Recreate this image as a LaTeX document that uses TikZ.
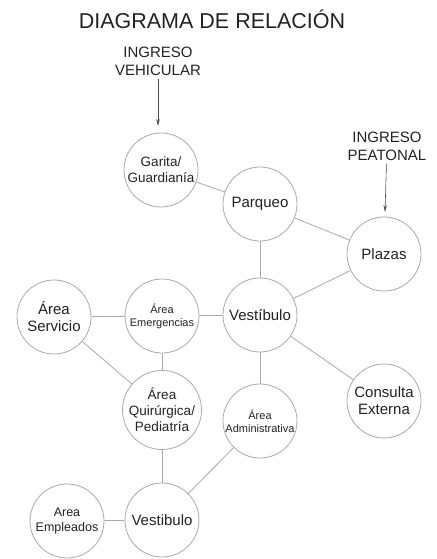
\documentclass[tikz,border=0pt]{standalone}
\usepackage{fontspec}
\setmainfont{Liberation Sans}
\usetikzlibrary{arrows.meta}
\definecolor{ringgray}{HTML}{A9A9A9}
\definecolor{inkgray}{HTML}{222222}

\begin{document}
\begin{tikzpicture}[x=1pt, y=-1pt,
    space/.style={circle, draw=ringgray, line width=0.8pt, minimum size=74pt,
        inner sep=0pt, align=center, text=inkgray, font=\fontsize{15}{17}\selectfont},
    smalltext/.style={font=\fontsize{11}{13}\selectfont},
    midtext/.style={font=\fontsize{13.5}{16}\selectfont},
    entry/.style={align=center, text=inkgray, font=\fontsize{15}{18}\selectfont},
    link/.style={draw=ringgray, line width=0.8pt},
    flow/.style={draw=inkgray!80, line width=0.6pt, -{Stealth[length=7pt, width=3.5pt]}}]
    \useasboundingbox (0,0) rectangle (436,559);

    \node[text=inkgray, font=\fontsize{21.5}{24}\selectfont] at (212,19) (title) {DIAGRAMA DE RELACIÓN};

    \node[entry] at (158,61)   (vehicular)  {INGRESO\\VEHICULAR};
    \node[entry] at (387,146)  (peatonal)   {INGRESO\\PEATONAL};
    \coordinate (vehicular-end) at (158,126);
    \coordinate (peatonal-end)  at (385,212);

    \node[space, midtext] at (161,170)  (garita)   {Garita/\\Guardianía};
    \node[space]          at (260,204)  (parqueo)  {Parqueo};
    \node[space]          at (384,254)  (plazas)   {Plazas};
    \node[space]          at (260,315)  (vest)     {Vestíbulo};
    \node[space, smalltext] at (162,316) (emerg)   {Área\\Emergencias};
    \node[space]          at (54,317)   (servicio) {Área\\Servicio};
    \node[space, midtext] at (162,410)  (quiro)    {Área\\Quirúrgica/\\Pediatría};
    \node[space, smalltext] at (260,421) (admin)   {Área\\Administrativa};
    \node[space]          at (384,401)  (consulta) {Consulta\\Externa};
    \node[space]          at (162,520)  (vestb)    {Vestibulo};
    \node[space, font=\fontsize{12.5}{15}\selectfont] at (67,521) (empleados) {Area\\Empleados};

    \draw[flow] (vehicular) -- (vehicular-end);
    \draw[flow] (peatonal) -- (peatonal-end);

    \draw[link] (garita) -- (parqueo);
    \draw[link] (parqueo) -- (plazas);
    \draw[link] (parqueo) -- (vest);
    \draw[link] (plazas) -- (vest);
    \draw[link] (vest) -- (emerg);
    \draw[link] (emerg) -- (servicio);
    \draw[link] (emerg) -- (quiro);
    \draw[link] (servicio) -- (quiro);
    \draw[link] (vest) -- (admin);
    \draw[link] (vest) -- (consulta);
    \draw[link] (quiro) -- (vestb);
    \draw[link] (admin) -- (vestb);
    \draw[link] (empleados) -- (vestb);
\end{tikzpicture}
\end{document}
